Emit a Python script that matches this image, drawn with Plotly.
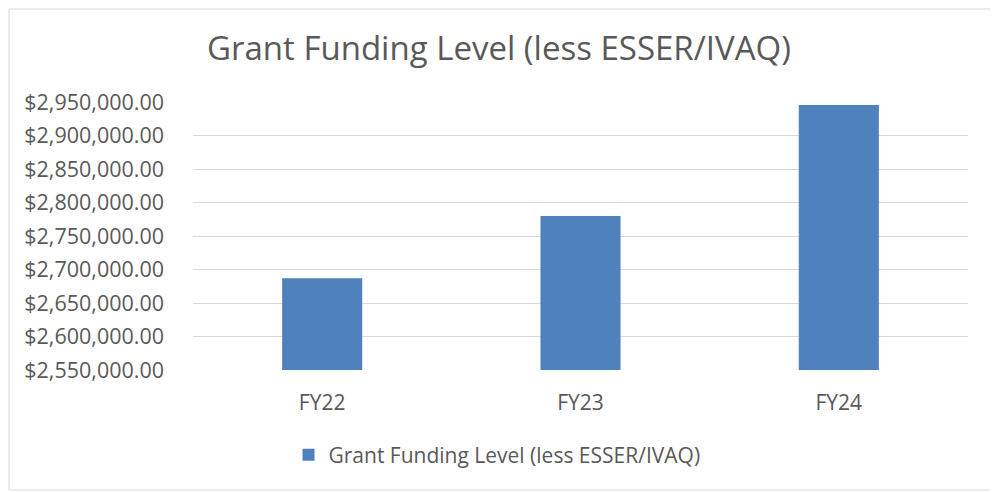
import plotly.graph_objects as go

categories = ["FY22", "FY23", "FY24"]
values = [2687000, 2780000, 2945500]
series_name = "Grant Funding Level (less ESSER/IVAQ)"
tick_vals = [2550000 + 50000 * i for i in range(9)]
tick_text = ["${:,.2f}".format(v) for v in tick_vals]

FONT = "Open Sans"
TEXT = "#595959"
OFF = 8  # page body offset

W, H = 998 - OFF, 492 - OFF
L, T = 193 - OFF, 102 - OFF
R = W - (968 - OFF)
B = H - (370 - OFF)
pw, ph = W - L - R, H - T - B

fig = go.Figure()
fig.add_trace(go.Bar(
    x=categories, y=values, name=series_name,
    marker=dict(color="#4F81BD", line=dict(width=0)),
    showlegend=True,
))

fig.update_layout(
    width=W, height=H,
    margin=dict(l=L, r=R, t=T, b=B),
    paper_bgcolor="white", plot_bgcolor="white",
    font=dict(family=FONT, color=TEXT, size=21),
    title=dict(text="Grant Funding Level (less ESSER/IVAQ)", x=(499 - 193) / pw, xref="paper", xanchor="center",
               y=1 - (48 - OFF) / H, yanchor="middle", font=dict(size=33, color=TEXT, family=FONT)),
    bargap=0.69,
    showlegend=True,
    legend=dict(orientation="h", x=(497 - 193) / pw, xanchor="center", y=(370 - 455) / ph, yanchor="middle",
                font=dict(size=21, color=TEXT), itemwidth=30),
    xaxis=dict(showgrid=False, showline=False, ticks="", ticklabelstandoff=18,
               tickfont=dict(size=21, color=TEXT)),
    yaxis=dict(range=[2550000, 2950000], tickvals=tick_vals, ticktext=tick_text,
               showgrid=True, gridcolor="#D9D9D9", gridwidth=1, zeroline=False,
               showline=False, ticks="", ticklabelstandoff=28,
               tickfont=dict(size=21.5, color=TEXT)),
    shapes=[dict(type="rect", xref="paper", yref="paper",
                 x0=(OFF + 1 - 193) / pw, x1=(995 - 193) / pw,
                 y0=(370 - 490) / ph, y1=(370 - OFF - 1) / ph,
                 line=dict(color="#D9D9D9", width=1), layer="below")],
)

fig.write_html("out.html")
